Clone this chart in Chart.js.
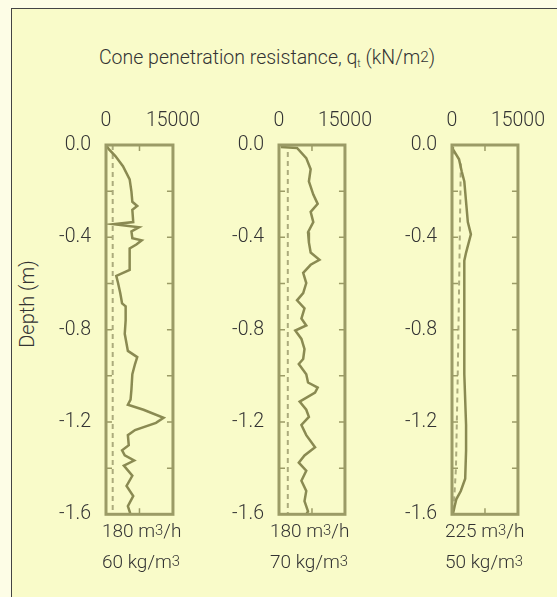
<!DOCTYPE html>
<html>
<head>
<meta charset="utf-8">
<script src="https://cdn.jsdelivr.net/npm/chart.js@4.4.1/dist/chart.umd.min.js"></script>
<style>
  html, body { margin: 0; padding: 0; }
  body { width: 557px; height: 597px; background: #fdfde6; position: relative; overflow: hidden;
         font-family: Roboto, "Open Sans", sans-serif; font-weight: 300; color: #333; }
  #frame { position: absolute; left: 11px; top: 8px; width: 560px; height: 600px;
           background: #f9fbc9; border-left: 1.5px solid #444; border-top: 1.5px solid #444; }
  canvas { position: absolute; top: 96px; }
  .txt { position: absolute; font-size: 19.5px; white-space: nowrap; }
  .sup { font-size: 0.78em; position: relative; top: -0.12em; }
  .sub { font-size: 0.55em; position: relative; top: 0.3em; }
  .lbl { position: absolute; top: 516px; font-size: 19px; line-height: 30px; white-space: nowrap; }
</style>
</head>
<body>
<div id="frame"></div>
<div class="txt" style="left:0; width:534px; text-align:center; top:46px;">Cone penetration resistance, q<span class="sub">t</span> (kN/m<span class="sup">2</span>)</div>
<div class="txt" style="left:27px; top:304px; font-size:20px; transform: translate(-50%,-50%) rotate(-90deg);">Depth (m)</div>
<canvas id="c1" width="173" height="445" style="left:39px"></canvas>
<canvas id="c2" width="172" height="445" style="left:212px"></canvas>
<canvas id="c3" width="172" height="445" style="left:385px"></canvas>
<div class="lbl" style="left:102px">180 m<span class="sup">3</span>/h<br>60 kg/m<span class="sup">3</span></div>
<div class="lbl" style="left:270px">180 m<span class="sup">3</span>/h<br>70 kg/m<span class="sup">3</span></div>
<div class="lbl" style="left:445px">225 m<span class="sup">3</span>/h<br>50 kg/m<span class="sup">3</span></div>
<script>
// q_t (kN/m2) against depth (m)
const xTicks = [0, 7500, 15000];
const xLabels = ['0', '', '15000'];
const depthLabels = [0, -0.4, -0.8, -1.2, -1.6];
const depthMinor = [0, -0.2, -0.4, -0.6, -0.8, -1.0, -1.2, -1.4, -1.6];

const depth1 = [0, -0.018, -0.048, -0.092, -0.149, -0.202, -0.246, -0.264, -0.281, -0.334, -0.343, -0.356,
  -0.374, -0.404, -0.413, -0.431, -0.448, -0.541, -0.567, -0.598, -0.642, -0.686, -0.699, -0.760, -0.818,
  -0.892, -0.919, -0.949, -0.993, -1.059, -1.103, -1.125, -1.147, -1.182, -1.204, -1.235, -1.257, -1.301,
  -1.323, -1.345, -1.367, -1.389, -1.433, -1.477, -1.521, -1.565, -1.6];
const q1 = [0, 630, 2100, 3800, 5300, 5700, 5900, 7000, 5900, 6100, 1700, 7400,
  5700, 5900, 8000, 6800, 5300, 5300, 2300, 2700, 3200, 3600, 4400, 4400, 4200,
  4900, 7000, 6500, 5900, 5700, 5500, 4900, 8400, 12900, 11200, 6500, 4900, 5100,
  3600, 4200, 6300, 4000, 5900, 4600, 6100, 4900, 5500];
const dash1 = [1500, 1500];

const depth2 = [-0.009, -0.013, -0.057, -0.105, -0.158, -0.215, -0.255, -0.290, -0.334, -0.378, -0.422,
  -0.466, -0.497, -0.519, -0.554, -0.598, -0.642, -0.673, -0.708, -0.752, -0.782, -0.804, -0.840, -0.884,
  -0.927, -0.949, -0.993, -1.029, -1.051, -1.073, -1.112, -1.147, -1.178, -1.213, -1.257, -1.310, -1.345,
  -1.376, -1.411, -1.455, -1.499, -1.543, -1.587, -1.6];
const q2 = [400, 4100, 6200, 7200, 6800, 7800, 8800, 7200, 7800, 6600, 6800,
  7200, 9200, 7200, 5500, 6200, 5500, 4100, 5800, 5100, 6200, 3700, 5100, 5800,
  5500, 4500, 6200, 6600, 8800, 8200, 4700, 6200, 6800, 5100, 6200, 8200, 5800,
  4500, 6200, 5100, 6200, 5800, 6600, 6200];
const dash2 = [2000, 2000];

const depth3 = [-0.009, -0.018, -0.062, -0.114, -0.158, -0.246, -0.334, -0.387, -0.466, -0.501, -0.686,
  -0.993, -1.213, -1.323, -1.446, -1.499, -1.534, -1.565, -1.6];
const q3 = [0, 200, 1600, 2200, 2800, 3200, 3600, 4300, 3200, 2800, 2800,
  2800, 3200, 3200, 3000, 2000, 1000, 600, 200];
const dashDepth3 = [-0.08, -0.5, -1.0, -1.4, -1.6];
const dash3 = [2000, 1700, 1300, 900, 300];

const TRACE = '#8a8a52';
const DASHC = '#abab7c';
const BOX = '#9b9b66';
const TEXT = '#333';
const FONT = { family: 'Roboto', size: 19.5, weight: 300 };

const pts = (ds, qs) => ds.map((d, i) => ({ x: qs[i], y: d }));

const framePlugin = {
  id: 'framePlugin',
  afterDatasetsDraw(chart) {
    const { ctx, chartArea: a, scales: { x, y } } = chart;
    ctx.save();
    ctx.strokeStyle = BOX;
    ctx.lineWidth = 1.5;
    ctx.beginPath();
    depthMinor.forEach(d => {
      const py = y.getPixelForValue(d);
      ctx.moveTo(a.left, py); ctx.lineTo(a.left + 6, py);
      ctx.moveTo(a.right, py); ctx.lineTo(a.right - 6, py);
    });
    const mx = x.getPixelForValue(xTicks[1]);
    ctx.moveTo(mx, a.top); ctx.lineTo(mx, a.top + 6);
    ctx.moveTo(mx, a.bottom); ctx.lineTo(mx, a.bottom - 6);
    ctx.stroke();
    ctx.lineWidth = 3;
    ctx.strokeRect(a.left, a.top, a.width, a.height);
    ctx.restore();
  }
};

function renderPanel(id, padRight, trace, dashed) {
  const canvas = document.getElementById(id);
  return new Chart(canvas.getContext('2d'), {
    type: 'scatter',
    data: {
      datasets: [
        {
          data: trace,
          showLine: true,
          borderColor: TRACE,
          borderWidth: 2.5,
          pointRadius: 0,
          tension: 0
        },
        {
          data: dashed,
          showLine: true,
          borderColor: DASHC,
          borderWidth: 2,
          borderDash: [5, 4],
          pointRadius: 0
        }
      ]
    },
    options: {
      responsive: false,
      animation: false,
      layout: { padding: { left: 0, right: padRight, top: 0, bottom: 21 } },
      plugins: { legend: { display: false }, tooltip: { enabled: false } },
      scales: {
        x: {
          type: 'linear',
          position: 'top',
          min: 0,
          max: 15000,
          afterBuildTicks: s => { s.ticks = xTicks.map(v => ({ value: v })); },
          afterFit: s => { s.height = 49; },
          grid: { display: false, drawTicks: false },
          border: { display: false },
          ticks: {
            autoSkip: false, maxRotation: 0, minRotation: 0, padding: 12,
            color: TEXT, font: FONT,
            callback: v => xLabels[xTicks.indexOf(v)]
          }
        },
        y: {
          type: 'linear',
          min: -1.6,
          max: 0,
          afterBuildTicks: s => { s.ticks = depthLabels.map(v => ({ value: v })); },
          afterFit: s => { s.width = 67; },
          grid: { display: false, drawTicks: false },
          border: { display: false },
          ticks: {
            padding: 15, color: TEXT, font: FONT,
            callback: v => Number(v).toFixed(1)
          }
        }
      }
    },
    plugins: [framePlugin]
  });
}

renderPanel('c1', 33, pts(depth1, q1), pts([0, -1.6], dash1));
renderPanel('c2', 33, pts(depth2, q2), pts([-0.03, -1.6], dash2));
renderPanel('c3', 31, pts(depth3, q3), pts(dashDepth3, dash3));
</script>
</body>
</html>
